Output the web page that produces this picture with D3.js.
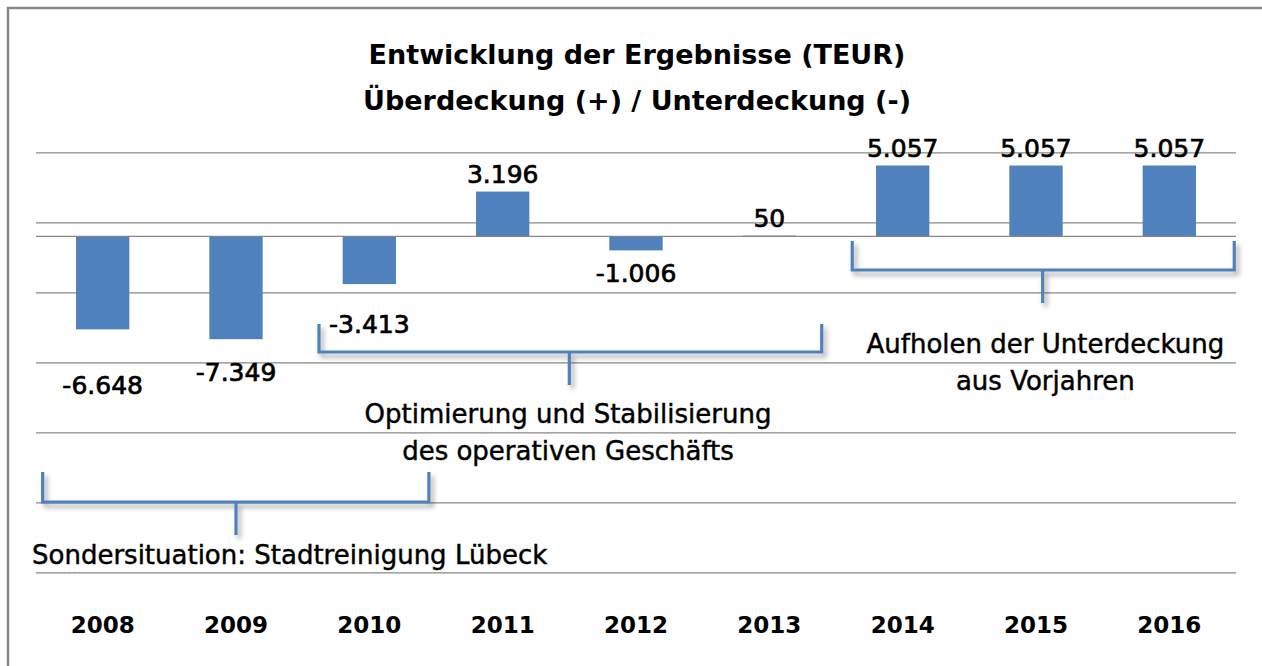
<!DOCTYPE html>
<html>
<head>
<meta charset="utf-8">
<script src="https://cdn.jsdelivr.net/npm/d3@7"></script>
<style>
  body { margin: 0; background: #fff; }
  svg { display: block; font-family: "DejaVu Sans", sans-serif; }
</style>
</head>
<body>
<svg id="chart" width="1262" height="666"></svg>
<script>
// ------------------- Data -------------------
const years = ["2008", "2009", "2010", "2011", "2012", "2013", "2014", "2015", "2016"];
const results = [-6648, -7349, -3413, 3196, -1006, 50, 5057, 5057, 5057];
const yTicks = d3.range(-24000, 6001, 5000);
const titleLines = ["Entwicklung der Ergebnisse (TEUR)", "Überdeckung (+) / Unterdeckung (-)"];
const noteSonder = ["Sondersituation: Stadtreinigung Lübeck"];
const noteOptim = ["Optimierung und Stabilisierung", "des operativen Geschäfts"];
const noteAufholen = ["Aufholen der Unterdeckung", "aus Vorjahren"];

// ------------------- Setup -------------------
const width = 1262, height = 666;
const svg = d3.select("#chart");
const blue = "#4F81BD";
const gridColor = "#878787";

// manual label nudges (px, downwards) as in the original chart
const labelNudge = [33, 10, 17, 0, 0, 0, 0, 0, 0];

const x = d3.scaleBand()
  .domain(years)
  .range([36, 1236])
  .paddingInner(0.6)
  .paddingOuter(0.3);

const y = d3.scaleLinear()
  .domain([-24000, 6000])
  .range([572.3, 152.3]);

// x position by (fractional) category index, used for the brackets
const xAt = i => x(years[0]) + x.bandwidth() / 2 + i * x.step();

const fmt = d3.formatLocale({ decimal: ",", thousands: ".", grouping: [3], currency: ["", " €"], minus: "-" }).format(",d");

// shadow for the bracket shapes
const defs = svg.append("defs");
defs.append("filter")
    .attr("id", "shadow")
    .attr("x", "-10%").attr("y", "-30%")
    .attr("width", "130%").attr("height", "180%")
  .append("feDropShadow")
    .attr("dx", 3).attr("dy", 4)
    .attr("stdDeviation", 2.4)
    .attr("flood-color", "#000")
    .attr("flood-opacity", 0.35);

// ------------------- Frame -------------------
svg.append("rect")
  .attr("x", 8).attr("y", 8)
  .attr("width", 1320).attr("height", 720)
  .attr("fill", "#fff")
  .attr("stroke", "#8a8a8a")
  .attr("stroke-width", 2.5);

// ------------------- Title -------------------
svg.append("g")
  .selectAll("text")
  .data(titleLines)
  .join("text")
    .attr("x", 637)
    .attr("y", (d, i) => 64 + i * 46)
    .attr("text-anchor", "middle")
    .attr("font-size", 27)
    .attr("font-weight", "bold")
    .attr("fill", "#000")
    .text(d => d);

// ------------------- Gridlines -------------------
svg.append("g")
  .attr("class", "grid")
  .attr("transform", `translate(36,0)`)
  .call(d3.axisLeft(y).tickValues(yTicks).tickSize(-1200).tickFormat(""))
  .call(g => g.select(".domain").remove())
  .call(g => g.selectAll("line").attr("stroke", gridColor).attr("stroke-width", 1.2));

// ------------------- Bars -------------------
svg.append("g")
  .selectAll("rect")
  .data(results)
  .join("rect")
    .attr("x", (d, i) => x(years[i]))
    .attr("y", d => y(Math.max(0, d)))
    .attr("width", x.bandwidth())
    .attr("height", d => Math.abs(y(d) - y(0)))
    .attr("fill", blue);

// zero axis
svg.append("line")
  .attr("x1", 36).attr("x2", 1236)
  .attr("y1", y(0)).attr("y2", y(0))
  .attr("stroke", gridColor)
  .attr("stroke-width", 1.2);

// ------------------- Value labels -------------------
svg.append("g")
  .selectAll("text")
  .data(results)
  .join("text")
    .attr("x", (d, i) => x(years[i]) + x.bandwidth() / 2)
    .attr("y", (d, i) => d >= 0 ? y(d) - 9 : y(d) + 32 + labelNudge[i])
    .attr("text-anchor", "middle")
    .attr("font-size", 25)
    .attr("fill", "#000")
    .attr("stroke", "#000")
    .attr("stroke-width", 0.7)
    .text(d => fmt(d));

// ------------------- Category axis -------------------
svg.append("g")
  .selectAll("text")
  .data(years)
  .join("text")
    .attr("x", d => x(d) + x.bandwidth() / 2)
    .attr("y", 633)
    .attr("text-anchor", "middle")
    .attr("font-size", 23)
    .attr("font-weight", "bold")
    .attr("fill", "#000")
    .text(d => d);

// ------------------- Brackets -------------------
const brackets = [
  { left: -0.45, right: 2.447, stem: 1.0, top: 472, base: 502, foot: 535 },
  { left: 1.6225, right: 5.393, stem: 3.5, top: 324, base: 352, foot: 385 },
  { left: 5.622, right: 8.487, stem: 7.05, top: 241, base: 270, foot: 303 }
];

const bg = svg.append("g").attr("filter", "url(#shadow)");
brackets.forEach(b => {
  const path = d3.path();
  path.moveTo(xAt(b.left), b.top);
  path.lineTo(xAt(b.left), b.base);
  path.lineTo(xAt(b.right), b.base);
  path.lineTo(xAt(b.right), b.top);
  path.moveTo(xAt(b.stem), b.base);
  path.lineTo(xAt(b.stem), b.foot);
  bg.append("path")
    .attr("d", path.toString())
    .attr("fill", "none")
    .attr("stroke", blue)
    .attr("stroke-width", 3.2);
});

// ------------------- Notes -------------------
function note(lines, xPos, y0, anchor) {
  svg.append("g")
    .selectAll("text")
    .data(lines)
    .join("text")
      .attr("x", xPos)
      .attr("y", (d, i) => y0 + i * 37)
      .attr("text-anchor", anchor)
      .attr("font-size", 26)
      .attr("fill", "#000")
      .attr("stroke", "#000")
      .attr("stroke-width", 0.45)
      .text(d => d);
}

note(noteSonder, xAt(-0.53), 564, "start");
note(noteOptim, xAt(3.49), 423, "middle");
note(noteAufholen, xAt(7.07), 353, "middle");
</script>
</body>
</html>
